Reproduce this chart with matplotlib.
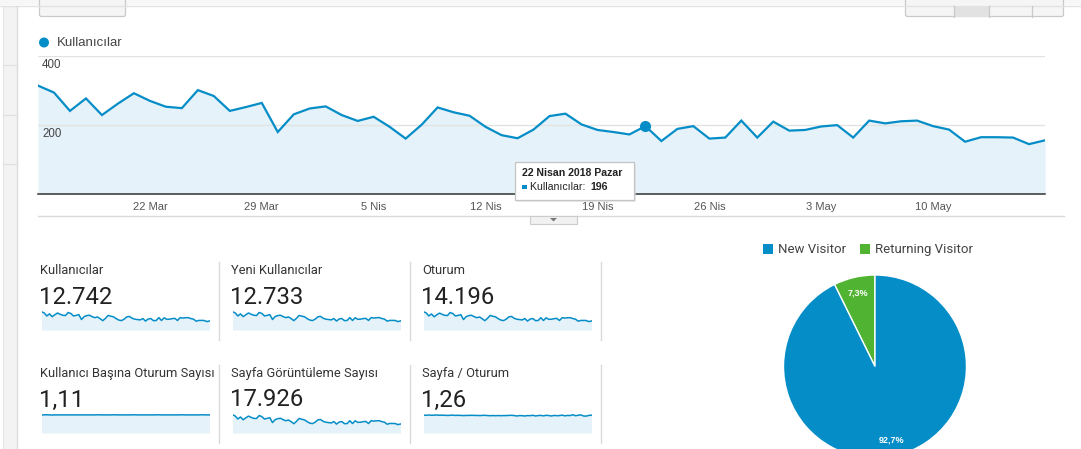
"""
Google Analytics kitlesine genel bakış ekranının matplotlib ile yeniden çizimi
"""

import numpy as np
import matplotlib
matplotlib.use('Agg')
import matplotlib.pyplot as plt
import matplotlib.patches as patches

W, H = 1081, 449
BLUE = '#058DC7'
GREEN = '#50B432'
FILL = '#E5F2F9'
CHART_FONT = ['Liberation Sans', 'DejaVu Sans']
CARD_FONT = ['Roboto', 'DejaVu Sans']

# günlük kullanıcılar (15 Mart - 17 Mayıs 2018)
days = np.arange('2018-03-15', '2018-05-18', dtype='datetime64[D]')
users = [313, 293, 240, 276, 228, 261, 291, 269, 252, 248, 300, 283, 240, 251, 263, 179, 230,
         247, 253, 228, 211, 223, 194, 160, 200, 250, 236, 226, 194, 170, 161, 186, 225, 232,
         201, 185, 179, 172, 196, 153, 188, 196, 160, 163, 212, 163, 209,
         183, 185, 195, 199, 163, 212, 204, 210, 212, 196, 186, 151, 164, 164, 163, 144, 155]
new_users = [312, 292, 240, 275, 228, 260, 291, 268, 252, 247, 299, 283, 240, 250, 263, 179, 230,
             247, 252, 228, 211, 223, 194, 160, 200, 249, 236, 226, 194, 170, 161, 186, 225, 232,
             201, 185, 179, 172, 196, 153, 188, 196, 160, 163, 212, 163, 209,
             183, 185, 195, 199, 163, 212, 204, 210, 212, 196, 186, 151, 164, 164, 163, 144, 155]
sessions = [348, 326, 268, 305, 252, 290, 322, 298, 279, 276, 333, 313, 266, 279, 292, 199, 255,
            274, 281, 254, 234, 248, 215, 178, 222, 277, 262, 251, 216, 189, 179, 206, 250, 258,
            223, 205, 199, 191, 218, 170, 209, 218, 178, 181, 235, 181, 232,
            203, 205, 216, 221, 181, 235, 227, 233, 235, 218, 206, 168, 182, 182, 181, 160, 172]
pageviews = [440, 410, 338, 385, 318, 366, 407, 376, 352, 348, 420, 395, 336, 352, 368, 251, 322,
             346, 354, 320, 295, 312, 272, 224, 280, 350, 330, 316, 272, 238, 226, 260, 315, 325,
             281, 259, 251, 241, 275, 214, 263, 275, 224, 228, 296, 228, 293,
             256, 259, 273, 279, 228, 297, 286, 294, 297, 274, 260, 211, 230, 230, 228, 202, 217]
sessions_per_user = [1.11, 1.11, 1.12, 1.11, 1.10, 1.11, 1.11, 1.11, 1.11, 1.11, 1.11, 1.11, 1.11,
                     1.11, 1.11, 1.11, 1.11,
                     1.11, 1.11, 1.11, 1.11, 1.12, 1.11, 1.11, 1.11, 1.11, 1.11, 1.12, 1.11, 1.11,
                     1.11, 1.11, 1.11, 1.11, 1.11, 1.12, 1.11, 1.11, 1.11, 1.11, 1.11, 1.11, 1.11,
                     1.11, 1.12, 1.11, 1.11,
                     1.11, 1.11, 1.11, 1.11, 1.11, 1.11, 1.12, 1.11, 1.11, 1.11, 1.11, 1.11, 1.11,
                     1.12, 1.11, 1.11, 1.11]
pages_per_session = [1.28, 1.27, 1.29, 1.27, 1.28, 1.29, 1.27, 1.28, 1.27, 1.26, 1.27, 1.28, 1.26,
                     1.27, 1.26, 1.25, 1.26,
                     1.26, 1.27, 1.26, 1.26, 1.25, 1.26, 1.27, 1.25, 1.24, 1.25, 1.24, 1.25, 1.24,
                     1.25, 1.25, 1.26, 1.27, 1.25, 1.22, 1.25, 1.24, 1.22, 1.25, 1.24, 1.27, 1.22,
                     1.25, 1.26, 1.23, 1.27,
                     1.25, 1.22, 1.26, 1.24, 1.25, 1.28, 1.23, 1.26, 1.25, 1.31, 1.24, 1.27, 1.30,
                     1.22, 1.21, 1.26, 1.28]

tick_dates = np.array(['2018-03-22', '2018-03-29', '2018-04-05', '2018-04-12',
                       '2018-04-19', '2018-04-26', '2018-05-03', '2018-05-10'], dtype='datetime64[D]')
tick_labels = ['22 Mar', '29 Mar', '5 Nis', '12 Nis', '19 Nis', '26 Nis', '3 May', '10 May']

hover_date = np.datetime64('2018-04-22')
hover_title = '22 Nisan 2018 Pazar'

card_titles = ['Kullanıcılar', 'Yeni Kullanıcılar', 'Oturum',
               'Kullanıcı Başına Oturum Sayısı', 'Sayfa Görüntüleme Sayısı', 'Sayfa / Oturum']
card_values = ['12.742', '12.733', '14.196', '1,11', '17.926', '1,26']
card_series = [users, new_users, sessions, sessions_per_user, pageviews, pages_per_session]

visitor_labels = ['New Visitor', 'Returning Visitor']
visitor_share = [92.7, 7.3]
visitor_colors = [BLUE, GREEN]

fig = plt.figure(figsize=(W / 100, H / 100), dpi=100)
fig.patch.set_facecolor('white')


def px_axes(x0, y0, x1, y1, **kw):
    """piksel koordinatıyla eksen oluştur (y aşağı doğru)"""
    return fig.add_axes([x0 / W, 1 - y1 / H, (x1 - x0) / W, (y1 - y0) / H], **kw)


# arka plan ve arayüz süsleri
bg = px_axes(0, 0, W, H)
bg.set_xlim(0, W)
bg.set_ylim(H, 0)
bg.axis('off')
bg.add_patch(patches.Rectangle((0, 0), W, 5, facecolor='#f7f7f7', edgecolor='none'))
bg.plot([0, W], [5.5, 5.5], color='#e2e2e2', lw=1)
bg.add_patch(patches.Rectangle((3, 5.5), 14, H, facecolor='#f3f3f3', edgecolor='none'))
bg.plot([17, 17], [5.5, H], color='#dcdcdc', lw=1)
bg.plot([3, 3], [5.5, H], color='#e4e4e4', lw=0.8)
for yy in (65, 115, 164):
    bg.plot([3, 17], [yy, yy], color='#e0e0e0', lw=0.8)

bg.add_patch(patches.FancyBboxPatch((39.5, -5), 86, 21.5, boxstyle='round,pad=0,rounding_size=2',
                                    facecolor='#f5f5f5', edgecolor='#c9c9c9', lw=0.9))
bg.add_patch(patches.FancyBboxPatch((905.5, -5), 158, 21.5, boxstyle='round,pad=0,rounding_size=2',
                                    facecolor='#f5f5f5', edgecolor='#c9c9c9', lw=0.9))
bg.add_patch(patches.Rectangle((954, 5.5), 35, 11, facecolor='#e2e2e2', edgecolor='none'))
for xx in (954, 989, 1032):
    bg.plot([xx, xx], [5.5, 16.5], color='#c9c9c9', lw=0.9)

# seri göstergesi
bg.add_patch(patches.Circle((44, 42.5), 5, facecolor=BLUE, edgecolor='none'))
bg.text(57, 43, 'Kullanıcılar', fontsize=9.5, color='#444444', va='center', ha='left',
        family=CHART_FONT)

# ana çizgi grafiği
ax = px_axes(38, 55.5, 1045, 194)
ax.set_facecolor('none')
ax.fill_between(days, users, 0, color=FILL, lw=0)
ax.plot(days, users, color=BLUE, lw=1.6, solid_joinstyle='miter', zorder=3)
hover_val = users[int((hover_date - days[0]).astype(int))]
ax.plot([hover_date], [hover_val], 'o', color=BLUE, ms=7, zorder=4)
ax.set_xlim(days[0], days[-1])
ax.set_ylim(0, 400)
for gy in (200, 400):
    ax.axhline(gy, color='#e3e3e3', lw=1, zorder=1)
    ax.text(0.004, gy - 9, str(gy), transform=ax.get_yaxis_transform(), fontsize=8.3,
            color='#444444', va='top', ha='left', family=CHART_FONT)
for side in ('top', 'right', 'left'):
    ax.spines[side].set_visible(False)
ax.spines['bottom'].set_color('#333333')
ax.spines['bottom'].set_linewidth(1.1)
ax.set_yticks([])
ax.set_xticks(tick_dates)
ax.set_xticklabels(tick_labels, fontsize=8, color='#555555', family=CHART_FONT)
ax.tick_params(axis='x', length=0, pad=6)

bg.plot([38, 1064], [215.5, 215.5], color='#d9d9d9', lw=1)

# özet kartları
card_x = [40, 231, 422]
row_y = [270, 373]
for i, (title, value, series) in enumerate(zip(card_titles, card_values, card_series)):
    cx = card_x[i % 3]
    ry = row_y[i // 3]
    bg.text(cx, ry, title, fontsize=9.3, color='#333333', va='center', ha='left',
            family=CARD_FONT)
    bg.text(cx - 1, ry + 27, value, fontsize=17.2, color='#222222', va='center', ha='left',
            family=CARD_FONT)
    sp = px_axes(cx + 1.5, ry + 41, cx + 169.5, ry + 60)
    sp.fill_between(np.arange(len(series)), series, 0, color=FILL, lw=0)
    sp.plot(np.arange(len(series)), series, color=BLUE, lw=1.1)
    sp.set_xlim(0, len(series) - 1)
    sp.set_ylim(0, max(series) * 1.04)
    sp.axis('off')

for xx in (219, 410, 601):
    bg.plot([xx, xx], [262, 340], color='#dadada', lw=1)
    bg.plot([xx, xx], [365, 443], color='#dadada', lw=1)

# ziyaretçi türü pastası
leg_x = [763, 860]
for lx, lab, col in zip(leg_x, visitor_labels, visitor_colors):
    bg.add_patch(patches.Rectangle((lx, 244), 10, 10, facecolor=col, edgecolor='none'))
    bg.text(lx + 15, 249.5, lab, fontsize=9.5, color='#444444', va='center', ha='left',
            family=CARD_FONT)

pie_r = 91.5
pie_cx, pie_cy = 875, 366.5
pax = px_axes(pie_cx - pie_r, pie_cy - pie_r, pie_cx + pie_r, pie_cy + pie_r)
wedges, _, autotexts = pax.pie(visitor_share[::-1], colors=visitor_colors[::-1], startangle=90,
                               counterclock=True, radius=1,
                               autopct=lambda p: f'{p:.1f}%'.replace('.', ','),
                               pctdistance=0.82,
                               wedgeprops=dict(edgecolor='white', linewidth=1))
for t in autotexts:
    t.set_color('white')
    t.set_fontsize(6.5)
    t.set_fontweight('bold')
    t.set_family(CHART_FONT)
pax.set_xlim(-1, 1)
pax.set_ylim(-1, 1)
pax.set_aspect('equal')

# üst katman: ipucu kutusu ve açılır sekme
top = px_axes(0, 0, W, H)
top.set_xlim(0, W)
top.set_ylim(H, 0)
top.axis('off')
top.add_patch(patches.Rectangle((530, 216), 47, 7.5, facecolor='#f1f1f1', edgecolor='#cccccc', lw=0.8))
top.add_patch(patches.Polygon([[550, 218], [557, 218], [553.5, 221.5]], closed=True,
                              facecolor='#777777', edgecolor='none'))
top.add_patch(patches.Rectangle((517, 164), 119, 38, facecolor='#dddddd', edgecolor='none', alpha=0.6))
top.add_patch(patches.Rectangle((515, 162), 119, 38, facecolor='white', edgecolor='#c4c4c4', lw=0.9))
top.text(522, 173.5, hover_title, fontsize=7.6, fontweight='bold', color='#222222',
         va='center', ha='left', family=CHART_FONT)
top.add_patch(patches.Rectangle((522, 184.5), 4.5, 4.5, facecolor=BLUE, edgecolor='none'))
top.text(530, 187, 'Kullanıcılar: ', fontsize=7.6, color='#222222', va='center', ha='left',
         family=CHART_FONT)
top.text(590, 187, str(hover_val), fontsize=7.6, fontweight='bold', color='#222222',
         va='center', ha='left', family=CHART_FONT)

fig.savefig('out.png', dpi=100, facecolor='white')
